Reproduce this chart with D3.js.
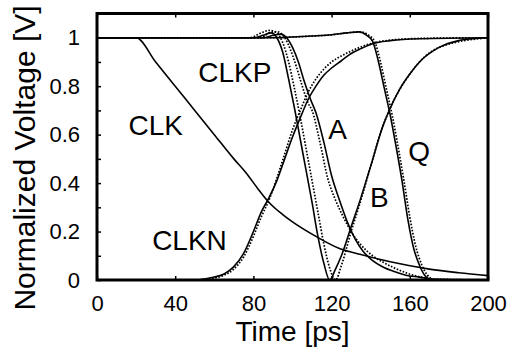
<!DOCTYPE html>
<html>
<head>
<meta charset="utf-8">
<script src="https://cdn.jsdelivr.net/npm/d3@7"></script>
<style>
  body { margin: 0; background: #fff; }
  svg text { font-family: "Liberation Sans", Arial, Helvetica, sans-serif; fill: #000; }
</style>
</head>
<body>
<script>
// chart size and plot box
var totalWidth = 512;
var totalHeight = 349;
var plot = {left: 97, right: 488, top: 13.5, bottom: 280};

// axis ticks
var xTicks = [0, 40, 80, 120, 160, 200];
var yTicks = [0, 0.2, 0.4, 0.6, 0.8, 1];
var yMinorTicks = [0.1, 0.3, 0.5, 0.7, 0.9];

// CLK (solid only)
var clkT = [0, 20, 30, 40, 50, 60, 70, 76, 82, 88, 95, 100, 112, 124, 135, 150, 170, 185, 200];
var clkV = [1, 1, 0.9, 0.8, 0.7, 0.6, 0.5, 0.445, 0.38, 0.32, 0.27, 0.24, 0.18, 0.13, 0.105, 0.075, 0.045, 0.03, 0.018];

// CLKN rising
var clknT = [0, 50, 55, 60, 65, 70, 75, 80, 84, 88, 92, 96, 100, 104, 108, 112, 116, 120, 125, 130, 135, 141, 150, 165, 200];
var clknV = [0, 0, 0.004, 0.012, 0.025, 0.055, 0.11, 0.2, 0.28, 0.34, 0.41, 0.5, 0.59, 0.67, 0.745, 0.8, 0.845, 0.875, 0.905, 0.935, 0.955, 0.975, 0.988, 0.996, 1];
var clknDotT = [0, 51, 56, 60, 65, 70, 75, 80, 84, 88, 92, 96, 100, 104, 108, 112, 116, 120, 125, 130, 135, 141, 150, 165, 200];
var clknDotV = [0, 0, 0.003, 0.008, 0.02, 0.045, 0.095, 0.18, 0.26, 0.33, 0.42, 0.52, 0.62, 0.7, 0.775, 0.83, 0.87, 0.9, 0.925, 0.945, 0.962, 0.978, 0.99, 0.997, 1];

// CLKP: falls, then the node rises back towards 1
var clkpT = [0, 80, 85, 89, 92, 95, 98, 101, 104, 107, 110, 113, 116, 119, 122, 125, 130, 135, 140, 146, 150, 155, 160, 165, 175, 185, 192, 200];
var clkpV = [1, 1, 1.01, 1.02, 1.0, 0.94, 0.83, 0.71, 0.58, 0.45, 0.32, 0.18, 0.07, 0.0, 0.045, 0.1, 0.22, 0.34, 0.47, 0.63, 0.71, 0.79, 0.85, 0.9, 0.96, 0.988, 0.996, 1];
var clkpDotT = [0, 78, 84, 88, 92, 95, 98, 101, 104, 107, 110, 113, 116, 119, 122, 125, 130, 135, 140, 146, 150, 160, 175, 200];
var clkpDotV = [1, 1, 1.02, 1.03, 1.02, 0.98, 0.9, 0.79, 0.67, 0.54, 0.41, 0.28, 0.15, 0.05, 0.0, 0.06, 0.2, 0.33, 0.47, 0.63, 0.71, 0.85, 0.96, 1];

// A falling with long tail
var aT = [0, 85, 90, 94, 97, 100, 103, 106, 109, 112, 116, 120, 124, 128, 132, 136, 141, 146, 152, 158, 165, 172, 200];
var aV = [1, 1, 1.01, 1.015, 1.0, 0.96, 0.9, 0.82, 0.75, 0.69, 0.57, 0.43, 0.33, 0.24, 0.17, 0.12, 0.08, 0.055, 0.035, 0.02, 0.012, 0.003, 0];
var aDotT = [0, 84, 88, 92, 96, 99, 102, 105, 108, 110, 114, 118, 122, 126, 130, 135, 141, 146, 152, 158, 165, 172, 200];
var aDotV = [1, 1, 1.02, 1.025, 1.0, 0.95, 0.88, 0.8, 0.73, 0.7, 0.57, 0.42, 0.33, 0.26, 0.2, 0.145, 0.1, 0.075, 0.05, 0.03, 0.013, 0.004, 0];

// Q: small bump then steep fall
var qT = [0, 90, 100, 110, 120, 128, 134, 138, 141, 144, 147, 150, 153, 156, 159, 162, 165, 168, 171, 200];
var qV = [1, 1, 1.003, 1.007, 1.012, 1.02, 1.024, 1.01, 0.985, 0.9, 0.79, 0.68, 0.55, 0.41, 0.25, 0.13, 0.06, 0.015, 0, 0];
var qDotT = [0, 90, 100, 110, 120, 128, 135, 139, 142, 145, 148, 151, 154, 157, 160, 163, 166, 169, 173, 200];
var qDotV = [1, 1, 1.003, 1.007, 1.012, 1.02, 1.024, 1.01, 0.985, 0.9, 0.79, 0.68, 0.55, 0.41, 0.26, 0.14, 0.065, 0.02, 0, 0];

// curve labels (text position in data units)
var labelNames = ["CLKP", "CLK", "CLKN", "A", "B", "Q"];
var labelT = [51.8, 16.1, 28.2, 118.3, 139.6, 159.2];
var labelV = [0.817, 0.598, 0.124, 0.584, 0.302, 0.49];

var series = [
    {t: clkT, v: clkV, dotted: false},
    {t: clknDotT, v: clknDotV, dotted: true},
    {t: clknT, v: clknV, dotted: false},
    {t: clkpDotT, v: clkpDotV, dotted: true},
    {t: clkpT, v: clkpV, dotted: false},
    {t: aDotT, v: aDotV, dotted: true},
    {t: aT, v: aV, dotted: false},
    {t: qDotT, v: qDotV, dotted: true},
    {t: qT, v: qV, dotted: false}
];

var svg = d3.select("body").append("svg")
    .attr("width", totalWidth)
    .attr("height", totalHeight);

var xScale = d3.scaleLinear().domain([0, 200]).range([plot.left, plot.right]);
var yScale = d3.scaleLinear().domain([0, 1.1]).range([plot.bottom, plot.top]);

var fmt = function(d) { return String(+d.toFixed(1)); };

// curves
var line = d3.line()
    .x(function(d) { return xScale(d[0]); })
    .y(function(d) { return yScale(d[1]); })
    .curve(d3.curveMonotoneX);

svg.append("g").selectAll("path")
    .data(series)
    .enter()
    .append("path")
    .attr("d", function(s) { return line(s.t.map(function(t, i) { return [t, s.v[i]]; })); })
    .attr("fill", "none")
    .attr("stroke", "#000")
    .attr("stroke-width", function(s) { return s.dotted ? 1.7 : 1.6; })
    .attr("stroke-dasharray", function(s) { return s.dotted ? "1.6,1.6" : null; });

// bottom axis with labels
var xAxis = svg.append("g")
    .attr("transform", "translate(0," + plot.bottom + ")")
    .call(d3.axisBottom(xScale).tickValues(xTicks).tickSizeInner(-4).tickSizeOuter(0).tickPadding(15).tickFormat(d3.format("d")));

// top axis ticks only
var xAxisTop = svg.append("g")
    .attr("transform", "translate(0," + plot.top + ")")
    .call(d3.axisTop(xScale).tickValues(xTicks).tickSizeInner(-4).tickSizeOuter(0).tickFormat(""));

// left axis with labels, plus minor ticks
var yAxis = svg.append("g")
    .attr("transform", "translate(" + plot.left + ",0)")
    .call(d3.axisLeft(yScale).tickValues(yTicks).tickSizeInner(-4).tickSizeOuter(0).tickPadding(17).tickFormat(fmt));

var yAxisMinor = svg.append("g")
    .attr("transform", "translate(" + plot.left + ",0)")
    .call(d3.axisLeft(yScale).tickValues(yMinorTicks).tickSizeInner(-4).tickSizeOuter(0).tickFormat(""));

[xAxis, xAxisTop, yAxis, yAxisMinor].forEach(function(a) {
    a.select(".domain").remove();
    a.selectAll("line").attr("stroke", "#000").attr("stroke-width", 1.5);
    a.selectAll("text").style("font-size", "22px").attr("fill", "#000");
});

// frame
svg.append("rect")
    .attr("x", plot.left)
    .attr("y", plot.top)
    .attr("width", plot.right - plot.left)
    .attr("height", plot.bottom - plot.top)
    .attr("fill", "none")
    .attr("stroke", "#000")
    .attr("stroke-width", 3);

// curve labels
svg.append("g").selectAll("text")
    .data(labelNames)
    .enter()
    .append("text")
    .attr("x", function(d, i) { return xScale(labelT[i]); })
    .attr("y", function(d, i) { return yScale(labelV[i]); })
    .style("font-size", "28px")
    .text(function(d) { return d; });

// axis titles
svg.append("text")
    .attr("x", (plot.left + plot.right) / 2)
    .attr("y", 341)
    .attr("text-anchor", "middle")
    .style("font-size", "28px")
    .text("Time [ps]");

svg.append("text")
    .attr("transform", "translate(35,158) rotate(-90)")
    .attr("text-anchor", "middle")
    .style("font-size", "30px")
    .text("Normalized Voltage [V]");
</script>
</body>
</html>
